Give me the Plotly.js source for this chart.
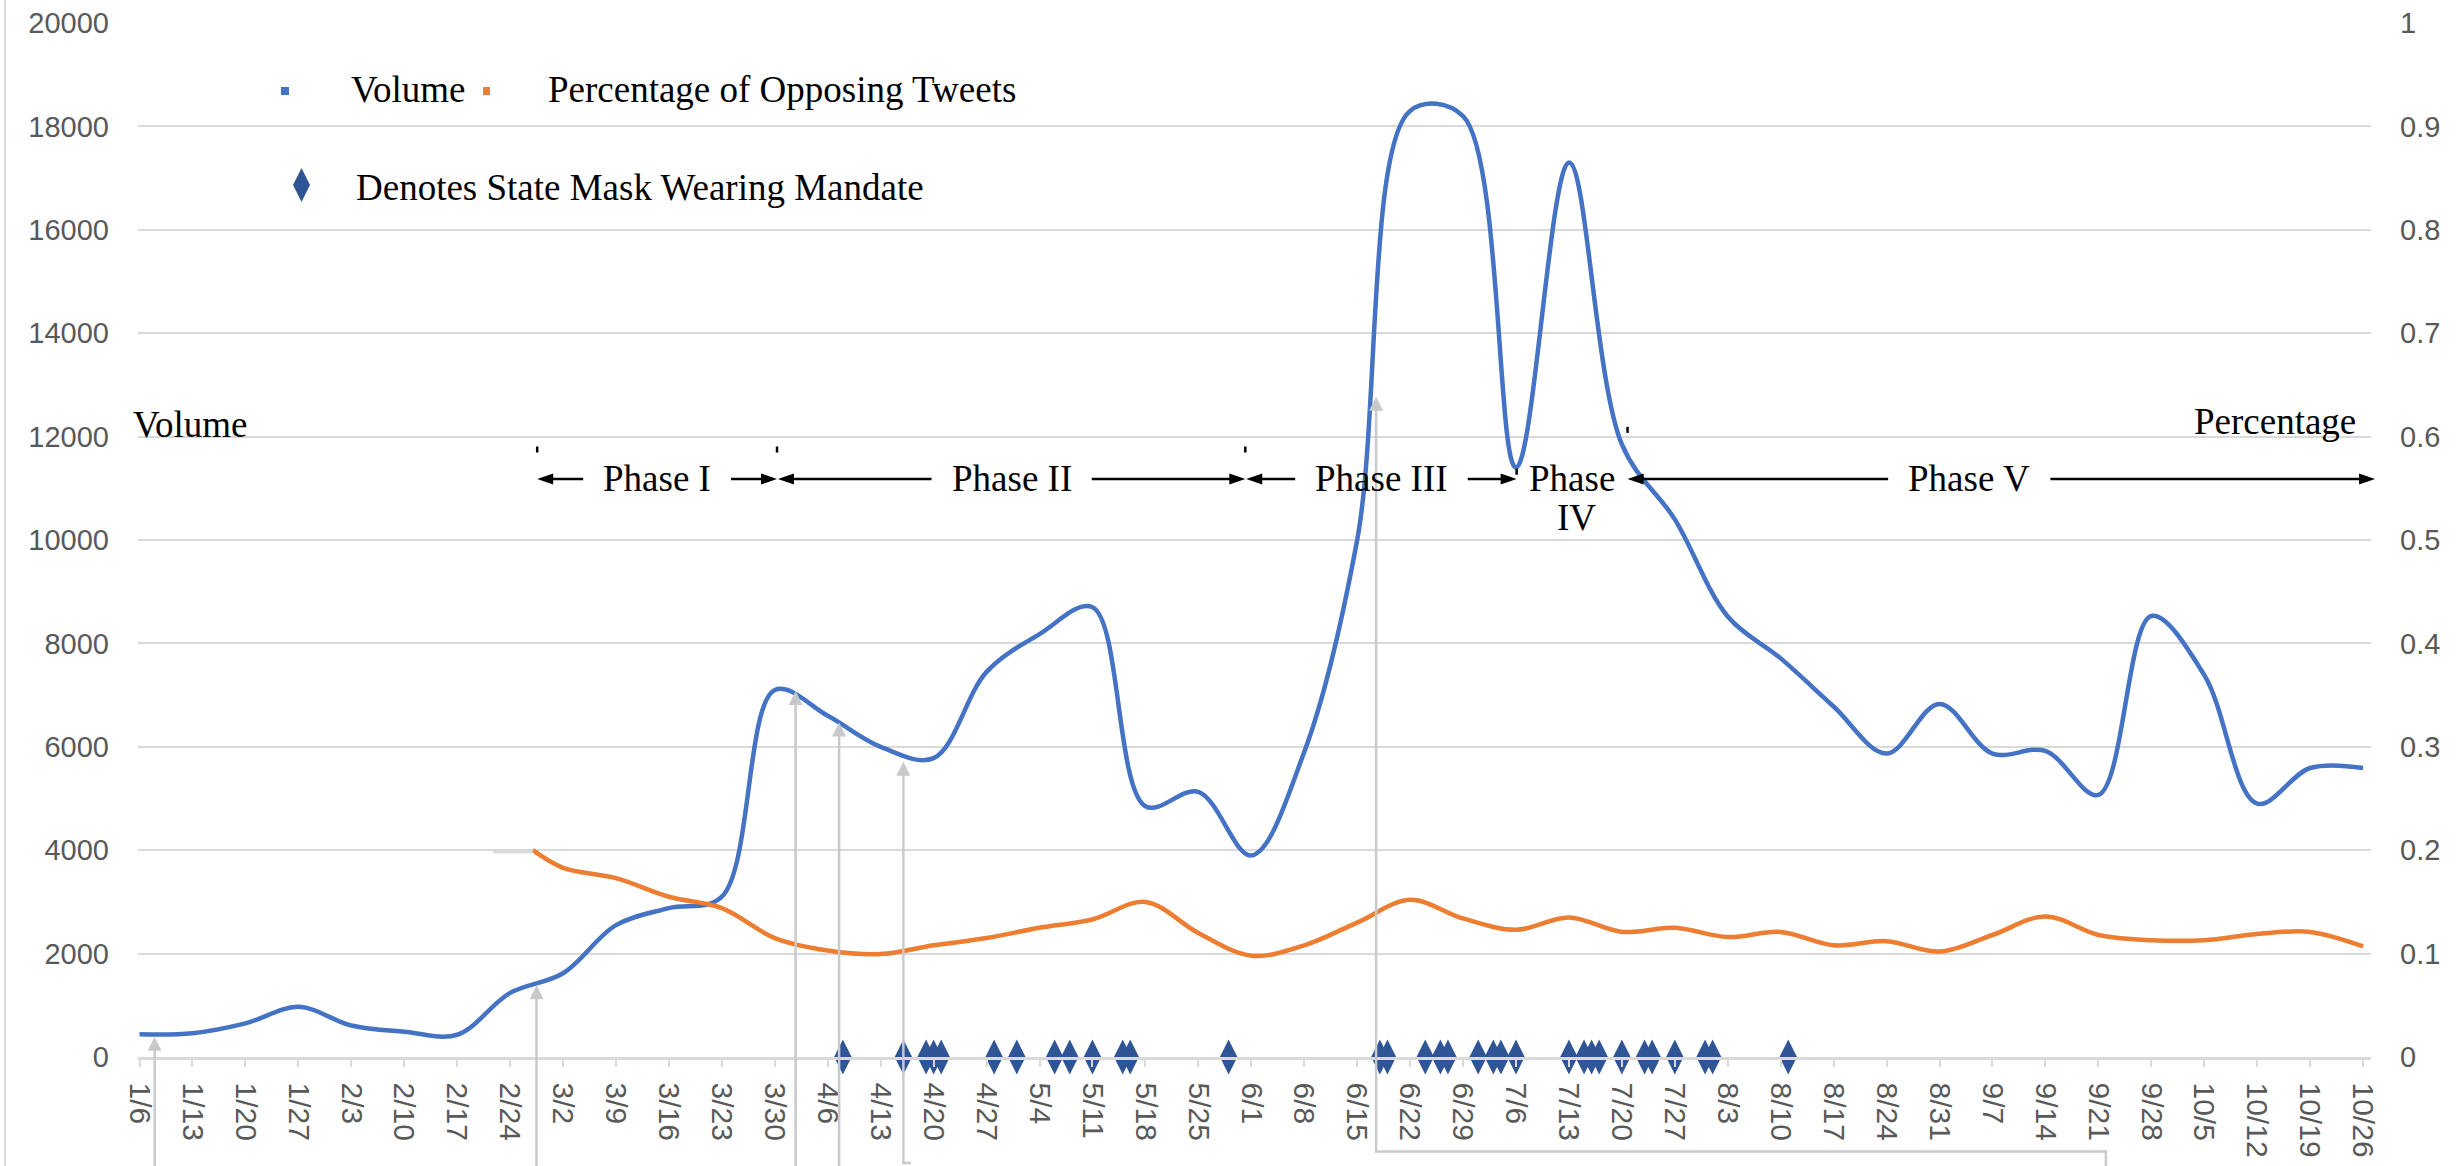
<!DOCTYPE html>
<html>
<head>
<meta charset="utf-8">
<script src="https://cdn.plot.ly/plotly-3.0.1.min.js"></script>
<style>
html,body{margin:0;padding:0;background:#fff;}
#chart{width:2458px;height:1166px;}
</style>
</head>
<body>
<div id="chart"></div>
<script>
// ---------------- DATA ----------------
const weekDates = ['2020-01-06','2020-01-13','2020-01-20','2020-01-27','2020-02-03','2020-02-10','2020-02-17','2020-02-24',
  '2020-03-02','2020-03-09','2020-03-16','2020-03-23','2020-03-30','2020-04-06','2020-04-13','2020-04-20','2020-04-27',
  '2020-05-04','2020-05-11','2020-05-18','2020-05-25','2020-06-01','2020-06-08','2020-06-15','2020-06-22','2020-06-29',
  '2020-07-06','2020-07-13','2020-07-20','2020-07-27','2020-08-03','2020-08-10','2020-08-17','2020-08-24','2020-08-31',
  '2020-09-07','2020-09-14','2020-09-21','2020-09-28','2020-10-05','2020-10-12','2020-10-19','2020-10-26'];
const weekLabels = ['1/6','1/13','1/20','1/27','2/3','2/10','2/17','2/24','3/2','3/9','3/16','3/23','3/30','4/6','4/13',
  '4/20','4/27','5/4','5/11','5/18','5/25','6/1','6/8','6/15','6/22','6/29','7/6','7/13','7/20','7/27','8/3','8/10',
  '8/17','8/24','8/31','9/7','9/14','9/21','9/28','10/5','10/12','10/19','10/26'];
const volume = [440,460,650,970,610,490,430,1240,1620,2550,2880,3100,7100,6600,6000,5780,7450,8180,8700,4850,5130,
  3900,5900,10000,18300,18200,11400,17300,11850,10400,8520,7710,6780,5870,6830,5870,5920,5070,8530,7390,4900,5590,5590];

const pctDates = ['2020-02-27','2020-03-02','2020-03-09','2020-03-16','2020-03-23','2020-03-30','2020-04-06','2020-04-13',
  '2020-04-20','2020-04-27','2020-05-04','2020-05-11','2020-05-18','2020-05-25','2020-06-01','2020-06-08','2020-06-15',
  '2020-06-22','2020-06-29','2020-07-06','2020-07-13','2020-07-20','2020-07-27','2020-08-03','2020-08-10','2020-08-17',
  '2020-08-24','2020-08-31','2020-09-07','2020-09-14','2020-09-21','2020-09-28','2020-10-05','2020-10-12','2020-10-19','2020-10-26'];
const pctOpposing = [0.200,0.183,0.173,0.155,0.144,0.115,0.103,0.0995,0.108,0.115,0.125,0.133,0.150,0.120,0.098,0.108,0.130,
  0.152,0.134,0.123,0.135,0.121,0.125,0.116,0.121,0.108,0.112,0.102,0.118,0.136,0.118,0.113,0.113,0.119,0.121,0.107];

const mandateDates = ['2020-04-08','2020-04-16','2020-04-19','2020-04-20','2020-04-21','2020-04-28','2020-05-01','2020-05-06',
  '2020-05-08','2020-05-11','2020-05-15','2020-05-16','2020-05-29','2020-06-18','2020-06-19','2020-06-24','2020-06-26',
  '2020-06-27','2020-07-01','2020-07-03','2020-07-04','2020-07-06','2020-07-13','2020-07-15','2020-07-16','2020-07-17',
  '2020-07-20','2020-07-23','2020-07-24','2020-07-27','2020-07-31','2020-08-01','2020-08-11'];

const calloutDates = ['2020-01-08','2020-02-27 12:00','2020-04-01 18:00','2020-04-07 12:00','2020-04-16','2020-06-17 12:00'];
const calloutValues = [390,1390,7080,6470,5710,12770];
const calloutJogDates = [null,null,null,null,'2020-04-17','2020-09-22'];

const phaseLabels = ['Phase I','Phase II','Phase III','Phase IV','Phase V'];
const phaseStart = ['2020-02-27 14:00','2020-03-30 10:00','2020-05-31 08:00','2020-07-06 02:00','2020-07-20 18:00'];
const phaseEnd   = ['2020-03-30 07:00','2020-05-31 05:00','2020-07-06 02:00','2020-07-20 18:00','2020-10-27 14:00'];
const phaseMarkDates = ['2020-02-27 14:00','2020-03-30 07:00','2020-05-31 05:00','2020-07-06 02:00','2020-07-20 18:00'];
const phaseMarkLevels = [11750,11750,11750,11320,12130];
const phaseArrowLevel = 11180;

const grayDashRange = ['2020-02-21 18:00','2020-02-27'];
const grayDashLevel = 3970;

// ---------------- GEOMETRY / STYLE ----------------
const W = 2458, H = 1166, L = 138, R = 87, T = 23, B = 109;
const plotW = W - L - R, plotH = H - T - B;
const xRange = ['2020-01-05 19:12','2020-10-27 01:12'];
const yMax = 20000;
const BLUE = '#4472C4', ORANGE = '#ED7D31', NAVY = '#2F5597', GRID = '#D9D9D9', CALL = '#C9C9C9', TICK = '#595959';
const SERIF = 'Liberation Serif, Times New Roman, serif';
const SANS = 'Liberation Sans, Arial, sans-serif';

const toMs = s => { const p = s.split(' '); return Date.parse(p[0] + 'T' + (p[1] || '00:00') + ':00Z'); };
const X0 = toMs(xRange[0]), X1 = toMs(xRange[1]);
const xPx = s => L + (toMs(s) - X0) / (X1 - X0) * plotW;
const yPx = v => T + (1 - v / yMax) * plotH;
const pX = px => (px - L) / plotW;
const pY = py => (T + plotH - py) / plotH;

const shapes = [], annotations = [];
function line(x0, y0, x1, y1, color, width) {
  shapes.push({type:'line', xref:'paper', yref:'paper', x0:pX(x0), y0:pY(y0), x1:pX(x1), y1:pY(y1), line:{color:color, width:width}});
}
function tri(tx, ty, dir, len, half, color) {
  let pts;
  if (dir === 'right') pts = [[tx,ty],[tx-len,ty-half],[tx-len,ty+half]];
  else if (dir === 'left') pts = [[tx,ty],[tx+len,ty-half],[tx+len,ty+half]];
  else pts = [[tx,ty],[tx-half,ty+len],[tx+half,ty+len]];
  const path = 'M' + pts.map(p => pX(p[0]).toFixed(6) + ',' + pY(p[1]).toFixed(6)).join('L') + 'Z';
  shapes.push({type:'path', xref:'paper', yref:'paper', path:path, fillcolor:color, line:{width:0}});
}
function text(px, py, t, anchor, size) {
  annotations.push({xref:'paper', yref:'paper', x:pX(px), y:pY(py), text:t, showarrow:false,
    xanchor:anchor, yanchor:'middle', font:{family:SERIF, size:size || 37, color:'#000'}});
}

const ctx = document.createElement('canvas').getContext('2d');
ctx.font = '37px "Liberation Serif"';
const tw = t => ctx.measureText(t).width;

// left border
line(5, 0, 5, H, GRID, 2);

// gray dash
line(xPx(grayDashRange[0]), yPx(grayDashLevel), xPx(grayDashRange[1]), yPx(grayDashLevel), GRID, 3);

// callouts
calloutDates.forEach((d, i) => {
  const x = xPx(d), tip = yPx(calloutValues[i]);
  const jog = calloutJogDates[i];
  const jogY = (i === 5) ? 1151.5 : 1163;
  if (jog) {
    line(x, jogY, x, tip + 13, CALL, 2.5);
    line(x - 1.2, jogY, xPx(jog), jogY, CALL, 2.5);
    if (i === 5) line(xPx(jog), jogY - 1.2, xPx(jog), H, CALL, 2.5);
  } else {
    line(x, H, x, tip + 13, CALL, 2.5);
  }
  tri(x, tip, 'up', 14, 7, CALL);
});

// phase marks
phaseMarkDates.forEach((d, i) => {
  const x = xPx(d), y = yPx(phaseMarkLevels[i]);
  line(x, y - 3, x, y + 3, '#000', 2.5);
});

// phases
const labelShift = {'Phase V': -32};
const gap = 20, headLen = 16, headHalf = 5.5;
phaseLabels.forEach((lab, i) => {
  const s = xPx(phaseStart[i]), e = xPx(phaseEnd[i]), yy = yPx(phaseArrowLevel);
  const c = (s + e) / 2 + (labelShift[lab] || 0);
  if (lab === 'Phase IV') {
    text(c, yy, 'Phase', 'center');
    text(c + 4, yy + 39, 'IV', 'center');
    return;
  }
  const hw = tw(lab) / 2;
  line(c - hw - gap, yy, s + headLen - 2, yy, '#000', 2.5);
  tri(s, yy, 'left', headLen, headHalf, '#000');
  line(c + hw + gap, yy, e - headLen + 2, yy, '#000', 2.5);
  tri(e, yy, 'right', headLen, headHalf, '#000');
  text(c, yy, lab, 'center');
});

// axis titles
text(131, 424, 'Volume', 'left');
text(2358, 421.5, 'Percentage', 'right');

// legend
shapes.push({type:'rect', xref:'paper', yref:'paper', x0:pX(281), x1:pX(289), y0:pY(87), y1:pY(95), fillcolor:BLUE, line:{width:0}});
shapes.push({type:'rect', xref:'paper', yref:'paper', x0:pX(483), x1:pX(490), y0:pY(87), y1:pY(95), fillcolor:ORANGE, line:{width:0}});
text(349, 90, 'Volume', 'left');
text(546, 90, 'Percentage of Opposing Tweets', 'left');
(function(){
  const cx = 301.5, cy = 185, hw = 8.5, hh = 17;
  const pts = [[cx, cy-hh],[cx+hw, cy],[cx, cy+hh],[cx-hw, cy]];
  shapes.push({type:'path', xref:'paper', yref:'paper',
    path:'M' + pts.map(p => pX(p[0]).toFixed(6) + ',' + pY(p[1]).toFixed(6)).join('L') + 'Z',
    fillcolor:NAVY, line:{width:0}});
})();
text(354, 188, 'Denotes State Mask Wearing Mandate', 'left');

// ---------------- TRACES ----------------
const traces = [
  {x: weekDates, y: volume, type:'scatter', mode:'lines', name:'Volume',
   line:{color:BLUE, width:4.5, shape:'spline', smoothing:1}, yaxis:'y', cliponaxis:false},
  {x: pctDates, y: pctOpposing, type:'scatter', mode:'lines', name:'Percentage of Opposing Tweets',
   line:{color:ORANGE, width:4.5, shape:'spline', smoothing:1}, yaxis:'y2', cliponaxis:false},
  {x: mandateDates, y: mandateDates.map(() => 0), type:'scatter', mode:'markers', name:'Denotes State Mask Wearing Mandate',
   marker:{symbol:'diamond-tall', size:25, color:NAVY, line:{width:0}}, yaxis:'y', cliponaxis:false}
];

const layout = {
  width: W, height: H,
  margin: {l:L, r:R, t:T, b:B, pad:0},
  paper_bgcolor:'#fff', plot_bgcolor:'#fff',
  showlegend:false,
  xaxis: {
    type:'date', range:xRange, tickmode:'array', tickvals:weekDates, ticktext:weekLabels,
    tickangle:90, showgrid:false, zeroline:false, showline:true, linecolor:GRID, linewidth:2.5,
    ticks:'outside', ticklen:7, tickwidth:2, tickcolor:GRID, ticklabelstandoff:10,
    tickfont:{family:SANS, size:30, color:TICK}
  },
  yaxis: {
    range:[0, yMax], tick0:0, dtick:2000, tickformat:'d', showgrid:true, gridcolor:GRID, gridwidth:2,
    zeroline:false, showline:false, ticks:'', ticklabelstandoff:28,
    tickfont:{family:SANS, size:29, color:TICK}
  },
  yaxis2: {
    range:[0, 1], tick0:0, dtick:0.1, overlaying:'y', side:'right', showgrid:false, zeroline:false,
    showline:false, ticks:'', ticklabelstandoff:28, tickfont:{family:SANS, size:29, color:TICK}
  },
  shapes: shapes,
  annotations: annotations
};

Plotly.newPlot('chart', traces, layout, {staticPlot:true, displayModeBar:false});
</script>
</body>
</html>
